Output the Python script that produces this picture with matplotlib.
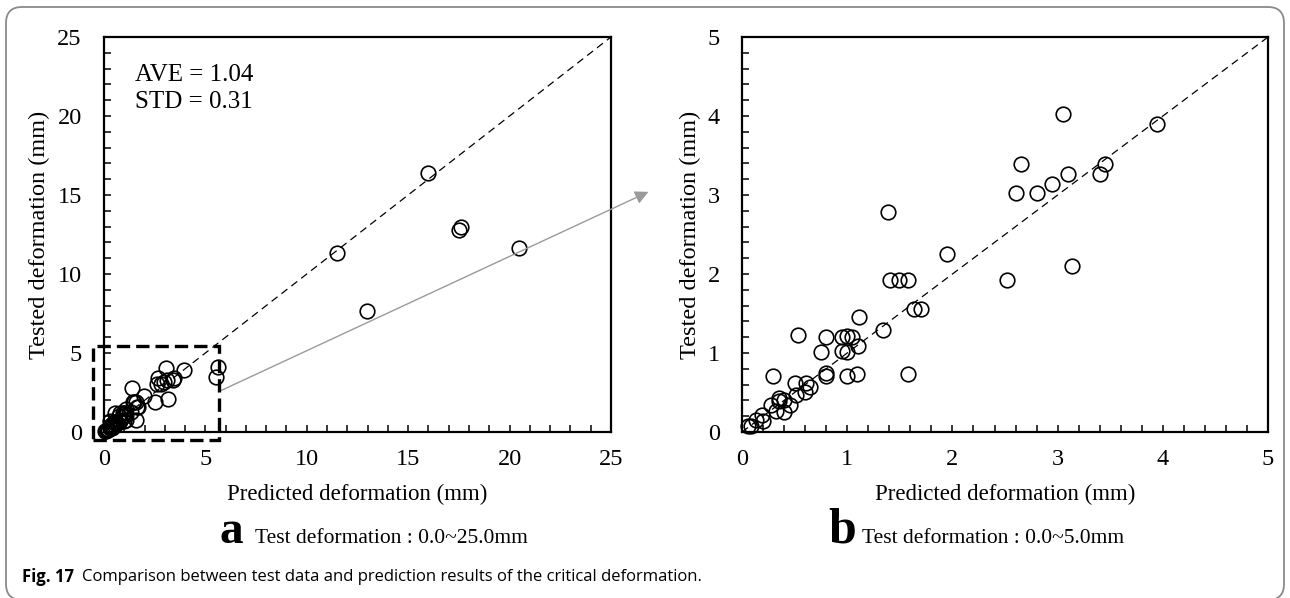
import numpy as np
import matplotlib
matplotlib.use("Agg")
import matplotlib.pyplot as plt
from matplotlib.patches import FancyBboxPatch, Rectangle
from matplotlib.transforms import IdentityTransform
from matplotlib.ticker import MultipleLocator

# Predicted vs. tested critical deformation (mm)
predicted = [
    3.05, 3.94, 2.65, 3.45, 3.40, 3.10, 2.95, 2.80, 2.60, 1.39,
    1.95, 3.14, 2.52, 1.41, 1.49, 1.58, 1.63, 1.70, 1.11, 1.34,
    0.53, 0.80, 0.95, 1.00, 1.05, 1.10, 0.75, 0.95, 1.00, 0.80,
    0.80, 1.00, 1.09, 1.575, 0.29, 0.50, 0.61, 0.65, 0.60, 0.51,
    0.35, 0.40, 0.35, 0.28, 0.46, 0.32, 0.40, 0.19, 0.13, 0.20,
    0.09, 0.06,
    5.64, 5.50, 11.5, 12.98, 16.0, 17.5, 17.6, 20.48,
]
tested = [
    4.02, 3.90, 3.39, 3.39, 3.27, 3.27, 3.14, 3.02, 3.02, 2.79,
    2.25, 2.10, 1.92, 1.92, 1.92, 1.92, 1.56, 1.56, 1.45, 1.29,
    1.23, 1.20, 1.20, 1.22, 1.20, 1.09, 1.01, 1.02, 1.01, 0.75,
    0.71, 0.71, 0.73, 0.73, 0.71, 0.62, 0.62, 0.575, 0.50, 0.47,
    0.43, 0.41, 0.39, 0.34, 0.34, 0.27, 0.25, 0.22, 0.15, 0.14,
    0.07, 0.08,
    4.09, 3.48, 11.3, 7.68, 16.4, 12.8, 12.95, 11.66,
]
ave_value = 1.04
std_value = 0.31

panel_a_range = (0, 25)
panel_b_range = (0, 5)
zoom_box = (-0.55, -0.5, 5.65, 5.45)  # x0, y0, x1, y1 of the highlighted region

pred = np.array(predicted)
test = np.array(tested)

plt.rcParams["font.family"] = ["Liberation Serif", "DejaVu Serif"]
plt.rcParams["mathtext.fontset"] = "stix"

fig = plt.figure(figsize=(12.9, 5.98), dpi=100)
ax_a = fig.add_axes([0.0806, 0.2776, 0.393, 0.6605])
ax_b = fig.add_axes([0.5752, 0.2776, 0.4078, 0.6605])


def style_axes(ax, lim, major, minor):
    ax.set_xlim(*lim)
    ax.set_ylim(*lim)
    ax.xaxis.set_major_locator(MultipleLocator(major))
    ax.yaxis.set_major_locator(MultipleLocator(major))
    ax.xaxis.set_minor_locator(MultipleLocator(minor))
    ax.yaxis.set_minor_locator(MultipleLocator(minor))
    for which in ("major", "minor"):
        ax.tick_params(axis="both", which=which, direction="in", length=5,
                       width=1.1, color="black")
    ax.tick_params(axis="x", which="major", pad=12, labelsize=17.5)
    ax.tick_params(axis="y", which="major", pad=16, labelsize=17.5)
    for s in ax.spines.values():
        s.set_linewidth(1.6)
    ax.set_xlabel("Predicted deformation (mm)", fontsize=16.5, labelpad=10)
    ax.set_ylabel("Tested deformation (mm)", fontsize=17.5, labelpad=5)
    # 1:1 reference line
    ax.plot(lim, lim, color="black", lw=0.9, dashes=(6, 4), zorder=2)


style_axes(ax_a, panel_a_range, 5, 1)
style_axes(ax_b, panel_b_range, 1, 0.2)

marker_kw = dict(ls="none", marker="o", ms=10.5, mfc="none", mec="black",
                 mew=1.2, zorder=3, clip_on=False)
ax_a.plot(pred, test, **marker_kw)
inside = (pred <= panel_b_range[1]) & (test <= panel_b_range[1])
ax_b.plot(pred[inside], test[inside], **marker_kw)

ax_a.text(0.062, 0.905, f"AVE = {ave_value:.2f}", transform=ax_a.transAxes,
          fontsize=18, ha="left", va="center")
ax_a.text(0.062, 0.835, f"STD = {std_value:.2f}", transform=ax_a.transAxes,
          fontsize=18, ha="left", va="center")

# highlighted low-deformation region and pointer to panel b
bx0, by0, bx1, by1 = zoom_box
ax_a.add_patch(Rectangle((bx0, by0), bx1 - bx0, by1 - by0, fill=False,
                         ec="black", lw=2.4, ls=(0, (4, 1.8)), zorder=4,
                         clip_on=False))
ax_a.annotate("", xy=(26.85, 15.2), xytext=(bx1, 2.55),
              xycoords="data", textcoords="data", annotation_clip=False,
              arrowprops=dict(arrowstyle="-|>", color="#9a9a9a", lw=1.0,
                              mutation_scale=20, shrinkA=0, shrinkB=0))

# panel captions
base_y = 0.092
fig.text(0.1795, base_y, "a", fontsize=34, fontweight="bold", ha="center",
         va="baseline")
fig.text(0.198, base_y, "Test deformation : 0.0~25.0mm", fontsize=15.5,
         ha="left", va="baseline")
fig.text(0.6525, base_y, "b", fontsize=36, fontweight="bold", ha="center",
         va="baseline")
fig.text(0.668, base_y, "Test deformation : 0.0~5.0mm", fontsize=15.5,
         ha="left", va="baseline")

cap_kw = dict(fontsize=12, va="center", family=["Open Sans", "DejaVu Sans"])
t1 = fig.text(0.017, 0.035, "Fig. 17", fontweight="bold", **cap_kw)
fig.canvas.draw()
bb = t1.get_window_extent()
fig.text((bb.x1 + 8) / fig.bbox.width, 0.035,
         "Comparison between test data and prediction results of the critical deformation.",
         **cap_kw)

# rounded frame around the figure
frame = FancyBboxPatch((6, -2), 1278, 593, boxstyle="round,pad=0,rounding_size=16",
                       transform=IdentityTransform(), fill=False,
                       ec="#8a8a8a", lw=1.3)
fig.patches.append(frame)

fig.savefig("out.png", dpi=100)
